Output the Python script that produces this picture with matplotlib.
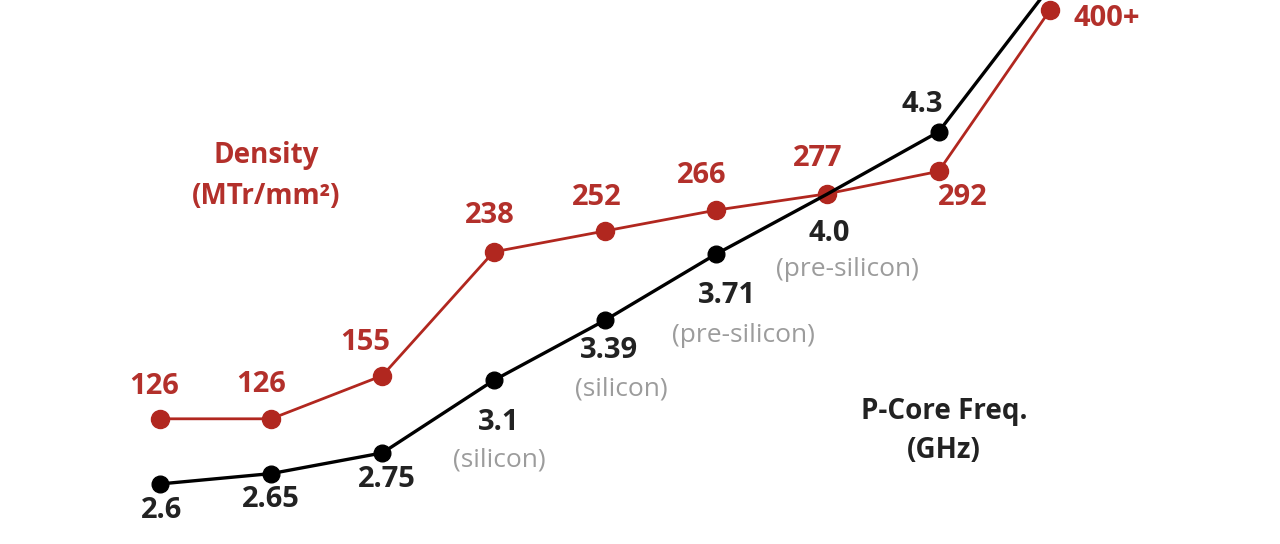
import matplotlib
matplotlib.use("Agg")
import matplotlib.pyplot as plt

plt.rcParams['font.family'] = ['Open Sans', 'DejaVu Sans']

# node positions along the roadmap (evenly spaced)
nodes = list(range(9))

density = [126, 126, 155, 238, 252, 266, 277, 292, 400]
density_labels = ['126', '126', '155', '238', '252', '266', '277', '292', '400+']

freq = [2.6, 2.65, 2.75, 3.1, 3.39, 3.71, 4.0, 4.3, 5.0]
freq_labels = ['2.6', '2.65', '2.75', '3.1', '3.39', '3.71', '4.0', '4.3', '']
freq_notes = ['', '', '', '(silicon)', '(silicon)', '(pre-silicon)', '(pre-silicon)', '', '']

RED = '#b1271f'
RED_TXT = '#b3302b'
BLACK = '#000000'
BLACK_TXT = '#222222'
GRAY = '#9c9c9c'

# label offsets in pixels (dx, dy)
dens_off = [(-6, 32), (-10, 34), (-17, 33), (-4, 36), (-8, 34), (-14, 35), (-10, 35), (24, -26), (57, -8)]
freq_off = [(2, -27), (0, -26), (4, -27), (5, -42), (4, -30), (11, -41), (2, -39), (-16, 27), (0, 0)]
note_off = [(0, 0), (0, 0), (0, 0), (6, -80), (16, -69), (27, -81), (20, -75), (0, 0), (0, 0)]

fig = plt.figure(figsize=(12.8, 5.44), dpi=100)
ax_d = fig.add_axes([0, 0, 1, 1])
ax_f = ax_d.twinx()

for a in (ax_f, ax_d):
    a.set_xlim(-1.438, 10.07)
    a.axis('off')

ax_d.set_ylim(42, 407)
ax_f.set_ylim(2.310, 4.937)

# black markers sit under the red series, the black line runs on top
ax_d.plot(nodes, freq, lw=0, marker='o', ms=12, mec=BLACK, mfc=BLACK,
          transform=ax_f.transData, zorder=1)
ax_d.plot(nodes, density, color=RED, lw=2.0, marker='o', ms=13,
          mec=RED, mfc=RED, zorder=2)
ax_f.plot(nodes, freq, color=BLACK, lw=2.4, zorder=3)
ax_d.set_ylim(42, 407)

for x, y, t, (dx, dy) in zip(nodes, density, density_labels, dens_off):
    ax_d.annotate(t, (x, y), xytext=(dx, dy), textcoords='offset pixels',
                  ha='center', va='center', fontsize=21, fontweight='bold',
                  color=RED_TXT)

for x, y, t, (dx, dy) in zip(nodes, freq, freq_labels, freq_off):
    if t:
        ax_f.annotate(t, (x, y), xytext=(dx, dy), textcoords='offset pixels',
                      ha='center', va='center', fontsize=21, fontweight='bold',
                      color=BLACK_TXT)

for x, y, t, (dx, dy) in zip(nodes, freq, freq_notes, note_off):
    if t:
        ax_f.annotate(t, (x, y), xytext=(dx, dy), textcoords='offset pixels',
                      ha='center', va='center', fontsize=19, color=GRAY)

fig.text(266 / 1280, 1 - 176 / 544, 'Density\n(MTr/mm²)', ha='center', va='center',
         fontsize=20, fontweight='bold', color=RED_TXT, linespacing=1.5)
fig.text(944 / 1280, 1 - 431 / 544, 'P-Core Freq.\n(GHz)', ha='center', va='center',
         fontsize=20, fontweight='bold', color=BLACK_TXT, linespacing=1.5)

fig.savefig('out.png', dpi=100, facecolor='white')
